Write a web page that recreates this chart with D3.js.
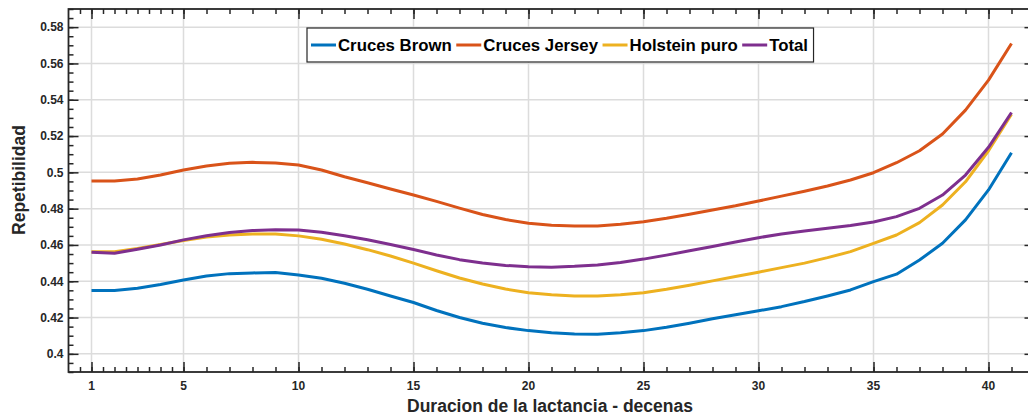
<!DOCTYPE html>
<html>
<head>
<meta charset="utf-8">
<script src="https://cdn.jsdelivr.net/npm/d3@7"></script>
<style>
  html, body { margin: 0; padding: 0; background: #fff; }
  svg { display: block; font-family: "Liberation Sans", Arial, Helvetica, sans-serif; }
</style>
</head>
<body>
<svg id="chart" width="1028" height="414"></svg>
<script>
// ---- data ----
const decenas = d3.range(1, 42);
const crucesBrown = [0.4349,0.4349,0.4362,0.4382,0.4407,0.4429,0.4442,0.4446,0.4448,0.4435,0.4417,0.4389,0.4356,0.4319,0.4283,0.4239,0.4200,0.4169,0.4145,0.4128,0.4116,0.4110,0.4108,0.4116,0.4128,0.4147,0.4169,0.4193,0.4215,0.4237,0.4260,0.4288,0.4319,0.4352,0.4398,0.4439,0.4517,0.4609,0.4738,0.4903,0.5108];
const crucesJersey = [0.4952,0.4952,0.4963,0.4985,0.5013,0.5035,0.5050,0.5055,0.5052,0.5040,0.5013,0.4976,0.4943,0.4908,0.4875,0.4840,0.4803,0.4768,0.4740,0.4720,0.4708,0.4705,0.4705,0.4714,0.4728,0.4747,0.4769,0.4793,0.4816,0.4842,0.4869,0.4896,0.4925,0.4958,0.4998,0.5053,0.5119,0.5211,0.5343,0.5508,0.5710];
const holsteinPuro = [0.4562,0.4562,0.4580,0.4602,0.4625,0.4644,0.4655,0.4660,0.4660,0.4650,0.4631,0.4605,0.4574,0.4539,0.4500,0.4458,0.4418,0.4385,0.4357,0.4337,0.4325,0.4319,0.4319,0.4325,0.4337,0.4356,0.4378,0.4402,0.4426,0.4450,0.4475,0.4500,0.4530,0.4563,0.4609,0.4655,0.4723,0.4820,0.4948,0.5119,0.5321];
const total = [0.4560,0.4554,0.4576,0.4600,0.4628,0.4651,0.4668,0.4679,0.4684,0.4682,0.4670,0.4651,0.4629,0.4603,0.4575,0.4545,0.4519,0.4500,0.4487,0.4480,0.4477,0.4482,0.4490,0.4503,0.4522,0.4544,0.4568,0.4592,0.4616,0.4640,0.4660,0.4677,0.4692,0.4707,0.4726,0.4756,0.4802,0.4875,0.4985,0.5138,0.5330];
const seriesNames = ["Cruces Brown", "Cruces Jersey", "Holstein puro", "Total"];
const xTicks = [1, 5, 10, 15, 20, 25, 30, 35, 40];
const xMinorTicks = [0.5,1,1.5,2,2.5,3,3.5,4,4.5,5].concat(d3.range(6, 42));
const yTicks = [0.4, 0.42, 0.44, 0.46, 0.48, 0.5, 0.52, 0.54, 0.56, 0.58];
const yTickLabels = ["0.4","0.42","0.44","0.46","0.48","0.5","0.52","0.54","0.56","0.58"];
const yMinorTicks = d3.range(0, 41).map(i => 0.39 + i * 0.005);
const xLabel = "Duracion de la lactancia - decenas";
const yLabel = "Repetibilidad";

// ---- layout ----
const colors = ["#0072BD", "#D95319", "#EDB120", "#7E2F8E"];
const values = [crucesBrown, crucesJersey, holsteinPuro, total];
const pLeft = 68.5, pTop = 9, pBottom = 372;
const x = d3.scaleLinear().domain([0, 42]).range([pLeft, pLeft + 42 * 23]);
const y = d3.scaleLinear().domain([0.39, 0.59]).range([pBottom, pTop]);
const pRight = x(42);
const axisColor = "#262626";

const svg = d3.select("#chart");

// grid
const grid = svg.append("g");
grid.selectAll("line.gx").data(xTicks).join("line")
  .attr("x1", d => x(d)).attr("x2", d => x(d)).attr("y1", pTop).attr("y2", pBottom)
  .attr("stroke", "#dcdcdc").attr("stroke-width", 1.5);
grid.selectAll("line.gy").data(yTicks).join("line")
  .attr("y1", d => y(d)).attr("y2", d => y(d)).attr("x1", pLeft).attr("x2", pRight)
  .attr("stroke", "#dcdcdc").attr("stroke-width", 1.5);

// lines
const line = d3.line().x((d, i) => x(decenas[i])).y(d => y(d));
values.forEach((vals, k) => {
  svg.append("path").datum(vals).attr("d", line)
    .attr("fill", "none").attr("stroke", colors[k]).attr("stroke-width", 3)
    .attr("stroke-linejoin", "round");
});

// axes box with ticks
function tickOnly(axisFn, scale, vals, size) {
  return axisFn(scale).tickValues(vals).tickSize(size).tickFormat("");
}
const gB = svg.append("g").attr("transform", `translate(0,${pBottom})`);
gB.call(tickOnly(d3.axisTop, x, xMinorTicks, 5));
gB.append("g").call(tickOnly(d3.axisTop, x, xTicks, 10));
const gT = svg.append("g").attr("transform", `translate(0,${pTop})`);
gT.call(tickOnly(d3.axisBottom, x, xMinorTicks, 5));
gT.append("g").call(tickOnly(d3.axisBottom, x, xTicks, 10));
const gL = svg.append("g").attr("transform", `translate(${pLeft},0)`);
gL.call(tickOnly(d3.axisRight, y, yMinorTicks, 5));
gL.append("g").call(tickOnly(d3.axisRight, y, yTicks, 10));
const gR = svg.append("g").attr("transform", `translate(${pRight},0)`);
gR.call(tickOnly(d3.axisLeft, y, yMinorTicks, 5));
gR.append("g").call(tickOnly(d3.axisLeft, y, yTicks, 10));
svg.selectAll(".domain").remove();
svg.selectAll(".tick line").attr("stroke", axisColor).attr("stroke-width", 1.5);
svg.append("rect").attr("x", pLeft).attr("y", pTop).attr("width", pRight - pLeft).attr("height", pBottom - pTop)
  .attr("fill", "none").attr("stroke", axisColor).attr("stroke-width", 1.8);

// tick labels
svg.append("g").selectAll("text").data(xTicks).join("text")
  .attr("x", d => x(d)).attr("y", 390).attr("text-anchor", "middle")
  .attr("font-size", 12).attr("font-weight", "bold").attr("fill", axisColor)
  .text(d => d);
svg.append("g").selectAll("text").data(yTicks).join("text")
  .attr("x", 63.5).attr("y", d => y(d)).attr("dy", "0.36em").attr("text-anchor", "end")
  .attr("font-size", 12).attr("font-weight", "bold").attr("fill", axisColor)
  .text((d, i) => yTickLabels[i]);

// axis labels
svg.append("text").attr("x", 550).attr("y", 411.5).attr("text-anchor", "middle")
  .attr("font-size", 17.5).attr("font-weight", "bold").attr("fill", axisColor).text(xLabel);
svg.append("text").attr("transform", "translate(25,180) rotate(-90)").attr("text-anchor", "middle")
  .attr("font-size", 17.5).attr("font-weight", "bold").attr("fill", axisColor).text(yLabel);

// legend
const leg = svg.append("g");
const legBox = leg.append("rect").attr("fill", "#fff").attr("stroke", axisColor).attr("stroke-width", 1.2);
let cx = 311;
const ly = 45;
seriesNames.forEach((name, k) => {
  leg.append("line").attr("x1", cx).attr("x2", cx + 25).attr("y1", ly).attr("y2", ly)
    .attr("stroke", colors[k]).attr("stroke-width", 3);
  cx += 27;
  const t = leg.append("text").attr("x", cx).attr("y", ly).attr("dy", "0.35em")
    .attr("font-size", 16.8).attr("font-weight", "bold").attr("fill", "#000").text(name);
  cx += t.node().getComputedTextLength() + 4.5;
});
legBox.attr("x", 307).attr("y", 28).attr("width", cx + 1 - 307).attr("height", 34);
</script>
</body>
</html>
